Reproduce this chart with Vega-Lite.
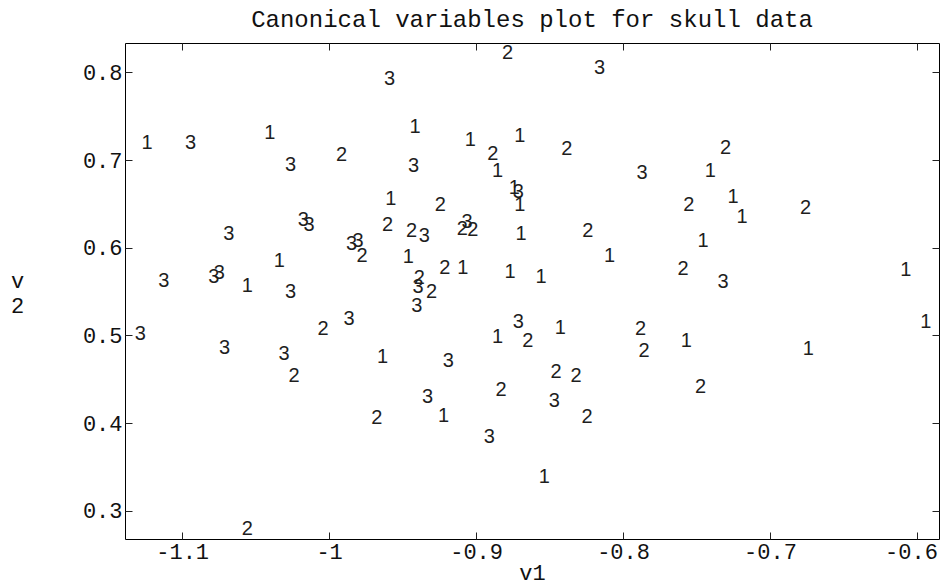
{
  "$schema": "https://vega.github.io/schema/vega-lite/v6.json",
  "width": 814,
  "height": 496,
  "autosize": {"type": "none"},
  "padding": {"left": 125, "top": 43, "right": 2, "bottom": 46},
  "background": "white",
  "title": {
    "text": "Canonical variables plot for skull data",
    "font": "Liberation Mono",
    "fontSize": 24,
    "fontWeight": "normal",
    "color": "#111",
    "anchor": "middle",
    "baseline": "alphabetic",
    "offset": 16,
    "dy": 24
  },
  "config": {
    "locale": {"number": {"decimal": ".", "thousands": ",", "grouping": [3], "currency": ["$", ""], "minus": "-"}},
    "view": {"stroke": "#000", "strokeWidth": 1},
    "axis": {
      "grid": false,
      "domain": false,
      "tickSize": -7,
      "tickColor": "#222",
      "tickWidth": 1,
      "labelFont": "Liberation Mono",
      "labelFontSize": 22,
      "labelColor": "#111",
      "labelPadding": 10,
      "titleFont": "Liberation Mono",
      "titleFontSize": 22,
      "titleFontWeight": "normal",
      "titleColor": "#111"
    }
  },
  "data": {
    "values": [
      {"v1": -1.1239, "v2": 0.720, "g": "1"},
      {"v1": -1.0403, "v2": 0.7316, "g": "1"},
      {"v1": -0.958, "v2": 0.6567, "g": "1"},
      {"v1": -1.0339, "v2": 0.5856, "g": "1"},
      {"v1": -1.0557, "v2": 0.5578, "g": "1"},
      {"v1": -0.9416, "v2": 0.7384, "g": "1"},
      {"v1": -0.904, "v2": 0.724, "g": "1"},
      {"v1": -0.8703, "v2": 0.7289, "g": "1"},
      {"v1": -0.8853, "v2": 0.6882, "g": "1"},
      {"v1": -0.874, "v2": 0.6693, "g": "1"},
      {"v1": -0.8703, "v2": 0.6502, "g": "1"},
      {"v1": -0.8694, "v2": 0.6168, "g": "1"},
      {"v1": -0.8092, "v2": 0.592, "g": "1"},
      {"v1": -0.9462, "v2": 0.5901, "g": "1"},
      {"v1": -0.9091, "v2": 0.578, "g": "1"},
      {"v1": -0.8769, "v2": 0.573, "g": "1"},
      {"v1": -0.8558, "v2": 0.5673, "g": "1"},
      {"v1": -0.7406, "v2": 0.689, "g": "1"},
      {"v1": -0.7251, "v2": 0.6594, "g": "1"},
      {"v1": -0.719, "v2": 0.6365, "g": "1"},
      {"v1": -0.7455, "v2": 0.6084, "g": "1"},
      {"v1": -0.6076, "v2": 0.5757, "g": "1"},
      {"v1": -0.594, "v2": 0.516, "g": "1"},
      {"v1": -0.7569, "v2": 0.4943, "g": "1"},
      {"v1": -0.674, "v2": 0.4856, "g": "1"},
      {"v1": -0.8853, "v2": 0.4989, "g": "1"},
      {"v1": -0.8426, "v2": 0.5096, "g": "1"},
      {"v1": -0.9221, "v2": 0.4096, "g": "1"},
      {"v1": -0.8535, "v2": 0.3392, "g": "1"},
      {"v1": -0.9637, "v2": 0.4761, "g": "1"},
      {"v1": -0.9916, "v2": 0.7073, "g": "2"},
      {"v1": -0.9603, "v2": 0.6274, "g": "2"},
      {"v1": -0.9776, "v2": 0.592, "g": "2"},
      {"v1": -0.8785, "v2": 0.8228, "g": "2"},
      {"v1": -0.8887, "v2": 0.708, "g": "2"},
      {"v1": -0.8382, "v2": 0.7138, "g": "2"},
      {"v1": -0.9244, "v2": 0.6502, "g": "2"},
      {"v1": -0.9439, "v2": 0.6206, "g": "2"},
      {"v1": -0.9094, "v2": 0.6225, "g": "2"},
      {"v1": -0.9023, "v2": 0.6214, "g": "2"},
      {"v1": -0.8239, "v2": 0.6206, "g": "2"},
      {"v1": -0.9212, "v2": 0.578, "g": "2"},
      {"v1": -0.9387, "v2": 0.5666, "g": "2"},
      {"v1": -0.9303, "v2": 0.5502, "g": "2"},
      {"v1": -0.7303, "v2": 0.7149, "g": "2"},
      {"v1": -0.7553, "v2": 0.6502, "g": "2"},
      {"v1": -0.6758, "v2": 0.6465, "g": "2"},
      {"v1": -0.7592, "v2": 0.5769, "g": "2"},
      {"v1": -0.7472, "v2": 0.4418, "g": "2"},
      {"v1": -0.8648, "v2": 0.4951, "g": "2"},
      {"v1": -0.788, "v2": 0.5085, "g": "2"},
      {"v1": -0.7857, "v2": 0.4829, "g": "2"},
      {"v1": -0.8455, "v2": 0.4589, "g": "2"},
      {"v1": -0.8319, "v2": 0.4552, "g": "2"},
      {"v1": -0.883, "v2": 0.4392, "g": "2"},
      {"v1": -0.8244, "v2": 0.4076, "g": "2"},
      {"v1": -1.0239, "v2": 0.4552, "g": "2"},
      {"v1": -1.0042, "v2": 0.5085, "g": "2"},
      {"v1": -0.9675, "v2": 0.4069, "g": "2"},
      {"v1": -1.0557, "v2": 0.2803, "g": "2"},
      {"v1": -1.0943, "v2": 0.720, "g": "3"},
      {"v1": -1.0262, "v2": 0.6959, "g": "3"},
      {"v1": -0.9589, "v2": 0.7936, "g": "3"},
      {"v1": -1.0682, "v2": 0.6168, "g": "3"},
      {"v1": -1.0175, "v2": 0.6328, "g": "3"},
      {"v1": -1.0137, "v2": 0.6274, "g": "3"},
      {"v1": -0.9848, "v2": 0.6054, "g": "3"},
      {"v1": -0.9803, "v2": 0.6084, "g": "3"},
      {"v1": -1.1125, "v2": 0.5635, "g": "3"},
      {"v1": -1.0785, "v2": 0.5681, "g": "3"},
      {"v1": -1.0748, "v2": 0.5719, "g": "3"},
      {"v1": -1.0262, "v2": 0.5502, "g": "3"},
      {"v1": -0.816, "v2": 0.8062, "g": "3"},
      {"v1": -0.9425, "v2": 0.6947, "g": "3"},
      {"v1": -0.7871, "v2": 0.6859, "g": "3"},
      {"v1": -0.8712, "v2": 0.6643, "g": "3"},
      {"v1": -0.9353, "v2": 0.6149, "g": "3"},
      {"v1": -0.9062, "v2": 0.63, "g": "3"},
      {"v1": -0.9394, "v2": 0.5559, "g": "3"},
      {"v1": -0.9403, "v2": 0.535, "g": "3"},
      {"v1": -0.7319, "v2": 0.5616, "g": "3"},
      {"v1": -0.8712, "v2": 0.516, "g": "3"},
      {"v1": -0.9189, "v2": 0.4723, "g": "3"},
      {"v1": -0.933, "v2": 0.4304, "g": "3"},
      {"v1": -0.8467, "v2": 0.4267, "g": "3"},
      {"v1": -0.891, "v2": 0.3856, "g": "3"},
      {"v1": -1.1284, "v2": 0.5027, "g": "3"},
      {"v1": -1.0712, "v2": 0.4868, "g": "3"},
      {"v1": -1.0307, "v2": 0.48, "g": "3"},
      {"v1": -0.9864, "v2": 0.5199, "g": "3"}
    ]
  },
  "resolve": {"axis": {"x": "independent", "y": "independent"}},
  "layer": [
    {
      "mark": {"type": "text", "font": "Liberation Sans", "fontSize": 20, "color": "#1e1e1e", "align": "center", "baseline": "middle", "dy": 1},
      "encoding": {
        "x": {
          "field": "v1", "type": "quantitative",
          "scale": {"domain": [-1.1389, -0.585], "nice": false, "zero": false},
          "axis": {"orient": "bottom", "values": [-1.1, -1, -0.9, -0.8, -0.7, -0.6], "format": ".1~f", "labelBaseline": "top", "labelPadding": 9, "labelOffset": {"condition": {"test": "datum.value > -0.65", "value": -6}, "value": 0}, "title": "v1", "titleBaseline": "alphabetic", "titleY": 40}
        },
        "y": {
          "field": "v2", "type": "quantitative",
          "scale": {"domain": [0.2677, 0.8335], "nice": false, "zero": false},
          "axis": {"orient": "left", "values": [0.3, 0.4, 0.5, 0.6, 0.7, 0.8], "format": ".1f", "labelAlign": "right", "labelBaseline": "middle", "title": ["v", "2"], "titleAngle": 0, "titleAlign": "center", "titleBaseline": "alphabetic", "titleX": -108, "titleY": 244, "titleLineHeight": 25}
        },
        "text": {"field": "g", "type": "nominal"}
      }
    },
    {
      "mark": {"type": "point", "opacity": 0},
      "encoding": {
        "x": {
          "field": "v1", "type": "quantitative",
          "scale": {"domain": [-1.1389, -0.585], "nice": false, "zero": false},
          "axis": {"orient": "top", "values": [-1.1, -1, -0.9, -0.8, -0.7, -0.6], "labels": false, "title": null}
        },
        "y": {
          "field": "v2", "type": "quantitative",
          "scale": {"domain": [0.2677, 0.8335], "nice": false, "zero": false},
          "axis": {"orient": "right", "values": [0.3, 0.4, 0.5, 0.6, 0.7, 0.8], "labels": false, "title": null}
        }
      }
    }
  ]
}
